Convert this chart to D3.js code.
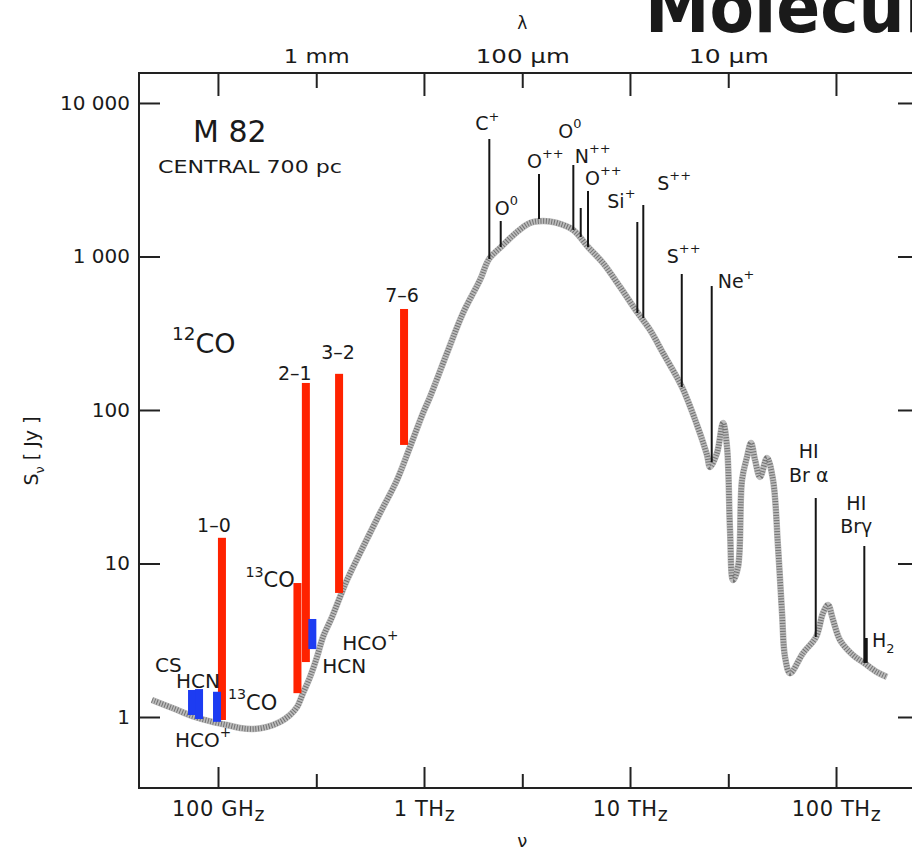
<!DOCTYPE html>
<html><head><meta charset="utf-8">
<script src="https://cdn.jsdelivr.net/npm/d3@7"></script>
<style>
html,body{margin:0;padding:0;background:#fff;overflow:hidden}
text{font-family:"DejaVu Sans",sans-serif;fill:#1a1a1a}
</style></head><body>
<svg id="chart" width="912" height="852"></svg>
<script>
// ---------------- data ----------------
const sedFreqGHz = [47.8, 60.5, 77.3, 94.6, 110.6, 127.9, 147.9, 172.9, 200, 223.6, 241.8, 258.6, 279.6, 302.4, 323.3, 357.6, 391, 422.9, 505.6, 611.5, 739.5, 855, 989, 1069, 1293, 1546, 1870, 2068, 2364, 2828, 3270, 3782, 4422, 5287, 6254, 7394, 8944, 10810, 12510, 14460, 17880, 21150, 23650, 24450, 26440, 28280, 29570, 30580, 31620, 33440, 34970, 36980, 38670, 40450, 42770, 46240, 49460, 52300, 54690, 56550, 59810, 69170, 79960, 86480, 91460, 96700, 104600, 120900, 136800, 158100, 176900];
const sedFluxJy = [1.29, 1.14, 1.00, 0.928, 0.887, 0.848, 0.835, 0.861, 0.928, 1.03, 1.16, 1.43, 1.82, 2.46, 3.32, 4.48, 6.05, 7.81, 12.8, 21.3, 35.0, 57.4, 95.6, 121.5, 235, 428, 703, 963, 1153, 1445, 1653, 1703, 1653, 1489, 1153, 907, 633, 435, 332, 235, 141, 79.8, 50.9, 42.5, 52.5, 82.3, 57.4, 16.5, 7.81, 9.49, 35.0, 49.4, 61.0, 47.2, 36.6, 48.7, 35.0, 12.8, 4.76, 2.46, 1.93, 2.61, 3.32, 4.76, 5.37, 4.29, 3.17, 2.53, 2.25, 1.96, 1.82];

// CO lines (red bars)
const coNames   = ["1–0", "13CO 2–1", "2–1", "3–2", "7–6"];
const coFreqGHz = [104.5, 243, 267, 387, 800];
const coLowJy   = [0.956, 1.43, 2.28, 6.43, 59.2];
const coHighJy  = [14.7, 7.46, 150, 172, 455];

// dense-gas tracers (blue bars)
const densNames   = ["CS", "HCN", "HCO+", "HCO+ / HCN"];
const densFreqGHz = [74.8, 80.9, 98.9, 287];
const densLowJy   = [1.03, 0.97, 0.93, 2.77];
const densHighJy  = [1.50, 1.52, 1.46, 4.35];

// fine-structure / recombination lines (black sticks)
const ionNames   = ["C+", "O0", "O++", "O0", "N++", "O++", "Si+", "S++", "S++", "Ne+", "HI Brα", "HI Brγ", "H2"];
const ionFreqGHz = [2075, 2357, 3616, 5307, 5764, 6254, 10850, 11600, 17830, 24920, 79720, 137200, 139800];
const ionPeakJy  = [5825, 1703, 3448, 3945, 2070, 2672, 1678, 2165, 769, 642, 26.7, 13.0, 3.27];
const ionBaseJy  = [963, 1153, 1755, 1489, 1340, 1153, 428, 397, 141, 45.8, 3.32, 2.25, 2.25];

// axes
const yTickValues = [1, 10, 100, 1000, 10000];
const yTickLabels = ["1", "10", "100", "1 000", "10 000"];
const nuMajorGHz  = [100, 1000, 10000, 100000];
const nuMajorLabels = ["100 GH", "1 TH", "10 TH", "100 TH"];
const nuMinorGHz  = [300, 3000, 30000];
const lamLabeledGHz = [299.8, 2998, 29979];      // 1 mm, 100 µm, 10 µm
const lamLabels     = ["1 mm", "100 µm", "10 µm"];
const lamUnlabeledGHz = [99.93, 999.3, 9993, 99930]; // 3 mm, 300 µm, 30 µm, 3 µm

// ---------------- layout ----------------
const L = 139, R = 918, T = 73, B = 788;
const svg = d3.select("#chart");
const x = d3.scaleLog().domain([41.35, 250000]).range([L, R]);
const y = d3.scaleLog().domain([0.3447, 15680]).range([B, T]);

function rich(g, px, py, parts, size, anchor) {
  const t = g.append("text").attr("x", px).attr("y", py)
    .attr("font-size", size).attr("text-anchor", anchor || "start");
  let shift = 0;
  parts.forEach(p => {
    const s = p[0], kind = p[1];
    const target = kind === "sup" ? -0.5 * size : kind === "sub" ? 0.3 * size : 0;
    const ts = t.append("tspan").text(s).attr("dy", target - shift);
    if (kind) ts.attr("font-size", size * 0.68);
    shift = target;
  });
  return t;
}

// ---------------- SED curve ----------------
const sed = sedFreqGHz.map((f, i) => [f, sedFluxJy[i]]);
const line = d3.line().x(d => x(d[0])).y(d => y(d[1])).curve(d3.curveCatmullRom.alpha(0.5));
svg.append("path").attr("d", line(sed)).attr("fill", "none")
  .attr("stroke", "#bcbcbc").attr("stroke-width", 6.5).attr("stroke-linejoin", "round");
svg.append("path").attr("d", line(sed)).attr("fill", "none")
  .attr("stroke", "#4a4a4a").attr("stroke-width", 5.5).attr("stroke-dasharray", "1 1.7")
  .attr("opacity", 0.65);

// ---------------- ion lines ----------------
svg.append("g").selectAll("line").data(ionFreqGHz).join("line")
  .attr("x1", d => x(d)).attr("x2", d => x(d))
  .attr("y1", (d, i) => y(ionPeakJy[i])).attr("y2", (d, i) => y(ionBaseJy[i]))
  .attr("stroke", "#151515").attr("stroke-width", (d, i) => i === 12 ? 3.5 : 2);

// ---------------- bars ----------------
const bw = 8;
svg.append("g").selectAll("rect").data(coFreqGHz).join("rect")
  .attr("x", d => x(d) - bw / 2).attr("width", bw)
  .attr("y", (d, i) => y(coHighJy[i])).attr("height", (d, i) => y(coLowJy[i]) - y(coHighJy[i]))
  .attr("fill", "#ff2200");
svg.append("g").selectAll("rect").data(densFreqGHz).join("rect")
  .attr("x", d => x(d) - bw / 2).attr("width", bw)
  .attr("y", (d, i) => y(densHighJy[i])).attr("height", (d, i) => y(densLowJy[i]) - y(densHighJy[i]))
  .attr("fill", "#1d3cf2");

// ---------------- frame & axes ----------------
const frame = svg.append("g").attr("stroke", "#222").attr("stroke-width", 2).attr("fill", "none");
frame.append("path").attr("d", `M${L},${T}H${R}V${B}H${L}Z`);

const yAx = svg.append("g").attr("transform", `translate(${L},0)`)
  .call(d3.axisLeft(y).tickValues(yTickValues).tickFormat((d, i) => yTickLabels[i])
    .tickSizeInner(-21).tickSizeOuter(0).tickPadding(9));
yAx.select(".domain").remove();
yAx.selectAll("line").attr("stroke", "#222").attr("stroke-width", 2);
yAx.selectAll("text").attr("font-size", 20).attr("font-family", "DejaVu Sans").attr("fill", "#1a1a1a");

const yAxR = svg.append("g").attr("transform", `translate(${R},0)`)
  .call(d3.axisRight(y).tickValues(yTickValues).tickFormat("").tickSizeInner(-20).tickSizeOuter(0));
yAxR.select(".domain").remove();
yAxR.selectAll("line").attr("stroke", "#222").attr("stroke-width", 2);

function bottomTicks(vals, len, fmt) {
  const g = svg.append("g").attr("transform", `translate(0,${B})`)
    .call(d3.axisBottom(x).tickValues(vals).tickFormat(fmt || "").tickSizeInner(-len).tickSizeOuter(0).tickPadding(14));
  g.select(".domain").remove();
  g.selectAll("line").attr("stroke", "#222").attr("stroke-width", 2);
  return g;
}
const bMaj = bottomTicks(nuMajorGHz, 21, (d, i) => nuMajorLabels[i]);
bottomTicks(nuMinorGHz, 14);
bMaj.selectAll("text").attr("font-size", 21).attr("font-family", "DejaVu Sans").attr("fill", "#1a1a1a")
  .attr("dy", null).attr("y", 28).attr("letter-spacing", 0.6)
  .each(function () { d3.select(this).append("tspan").attr("dy", 5).attr("font-size", 19).text("z"); });

function topTicks(vals, len, fmt) {
  const g = svg.append("g").attr("transform", `translate(0,${T})`)
    .call(d3.axisTop(x).tickValues(vals).tickFormat(fmt || "").tickSizeInner(-len).tickSizeOuter(0).tickPadding(10));
  g.select(".domain").remove();
  g.selectAll("line").attr("stroke", "#222").attr("stroke-width", 2);
  return g;
}
const lamWidths = [66, 94, 80];
const tLab = topTicks(lamLabeledGHz, 15, (d, i) => lamLabels[i]);
topTicks(lamUnlabeledGHz, 23);
tLab.selectAll("text").attr("font-size", 20).attr("font-family", "Liberation Sans").attr("fill", "#1a1a1a")
  .attr("dy", null).attr("y", -10)
  .attr("textLength", (d, i) => lamWidths[i]).attr("lengthAdjust", "spacingAndGlyphs");

// axis titles
svg.append("text").attr("x", x(2998)).attr("y", 29).attr("text-anchor", "middle").attr("font-size", 17).text("λ");
svg.append("text").attr("x", x(2998)).attr("y", 847).attr("text-anchor", "middle").attr("font-size", 18).text("ν");
const yt = svg.append("g").attr("transform", "translate(38,451) rotate(-90)");
rich(yt, 0, 0, [["S", ""], ["ν", "sub"], [" [ Jy ]", ""]], 19, "middle");

// ---------------- annotations ----------------
const ann = svg.append("g");
rich(ann, 193, 142, [["M 82", ""]], 30);
ann.append("text").attr("x", 158).attr("y", 173).attr("font-size", 18)
  .attr("textLength", 184).attr("lengthAdjust", "spacingAndGlyphs").text("CENTRAL  700 pc");
rich(ann, 172, 353, [["12", "sup"], ["CO", ""]], 27);

// CO labels relative to bars
const coPx = i => [x(coFreqGHz[i]), y(coHighJy[i]), y(coLowJy[i])];
[[0, -8, -6], [2, -11, -3], [3, -1, -15], [4, -2, -7]].forEach(([i, dx, dy]) => {
  const [bx, by] = coPx(i);
  rich(ann, bx + dx, by + dy, [[coNames[i], ""]], 19, "middle");
});
{ const [bx, by] = coPx(1); rich(ann, bx - 52, by + 4, [["13", "sup"], ["CO", ""]], 21); }
{ const [bx, , bb] = coPx(0); rich(ann, bx + 6, bb - 10, [["13", "sup"], ["CO", ""]], 21); }

// dense-gas labels
const dPx = i => [x(densFreqGHz[i]), y(densHighJy[i]), y(densLowJy[i])];
{ const [bx, by] = dPx(0); rich(ann, bx - 37, by - 18, [["CS", ""]], 20); }
{ const [bx, by] = dPx(1); rich(ann, bx - 23, by - 1, [["HCN", ""]], 20); }
{ const [bx, , bb] = dPx(2); rich(ann, bx - 42, bb + 25, [["HCO", ""], ["+", "sup"]], 20); }
{ const [bx, by, bb] = dPx(3);
  rich(ann, bx + 30, by + 31, [["HCO", ""], ["+", "sup"]], 20);
  rich(ann, bx + 10, bb + 24, [["HCN", ""]], 20); }

// ion labels: [index, dx, dy, parts]
const ionLabelLayout = [
  [0, -14, -9, [["C", ""], ["+", "sup"]]],
  [1, -6, -6, [["O", ""], ["0", "sup"]]],
  [2, -12, -6, [["O", ""], ["++", "sup"]]],
  [3, -15, -27, [["O", ""], ["0", "sup"]]],
  [4, -6, -45, [["N", ""], ["++", "sup"]]],
  [5, -3, -6, [["O", ""], ["++", "sup"]]],
  [6, -30, -14, [["Si", ""], ["+", "sup"]]],
  [7, 14, -15, [["S", ""], ["++", "sup"]]],
  [8, -15, -11, [["S", ""], ["++", "sup"]]],
  [9, 6, 2, [["Ne", ""], ["+", "sup"]]],
  [12, 6, 9, [["H", ""], ["2", "sub"]]]
];
ionLabelLayout.forEach(([i, dx, dy, parts]) => {
  rich(ann, x(ionFreqGHz[i]) + dx, y(ionPeakJy[i]) + dy, parts, 19);
});
[[10, -7, "Br α"], [11, -8, "Brγ"]].forEach(([i, dx, s]) => {
  const px = x(ionFreqGHz[i]) + dx, py = y(ionPeakJy[i]);
  rich(ann, px, py - (i === 10 ? 40 : 36), [["HI", ""]], 19, "middle");
  rich(ann, px, py - (i === 10 ? 16 : 13), [[s, ""]], 19, "middle");
});

// overlaid slide title (cut by the page edge)
const title = svg.append("text").attr("x", 645).attr("y", 32).attr("font-size", 72)
  .attr("font-family", "Liberation Sans").attr("font-weight", "bold").attr("fill", "#000")
  .text("Molecular");
const tw = title.node().getComputedTextLength();
title.attr("textLength", tw * 0.9).attr("lengthAdjust", "spacingAndGlyphs");
</script>
</body></html>
